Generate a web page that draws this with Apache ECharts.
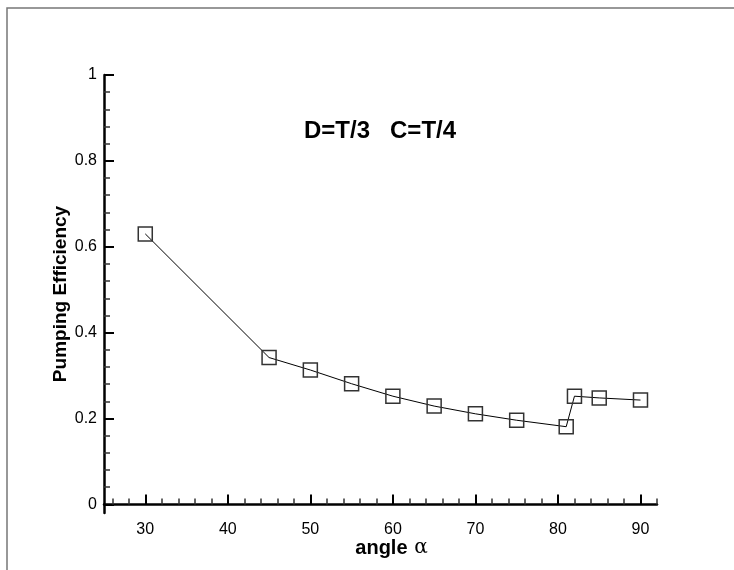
<!DOCTYPE html>
<html>
<head>
<meta charset="utf-8">
<script src="https://cdn.jsdelivr.net/npm/echarts@6/dist/echarts.min.js"></script>
<style>html,body{margin:0;padding:0;background:#fff}#c{width:734px;height:570px}</style>
</head>
<body>
<div id="c"></div>
<script>
const angles = [30, 45, 50, 55, 60, 65, 70, 75, 81, 82, 85, 90];
const efficiency = [0.630, 0.342, 0.313, 0.281, 0.252, 0.229, 0.211, 0.196, 0.181, 0.252, 0.248, 0.243];
const xMajorTicks = [30, 40, 50, 60, 70, 80, 90];
const xMinorTicks = [26, 28, 32, 34, 36, 38, 42, 44, 46, 48, 52, 54, 56, 58, 62, 64, 66, 68, 72, 74, 76, 78, 82, 84, 86, 88, 92];
const yMajorTicks = [0, 0.2, 0.4, 0.6, 0.8, 1];
const yMinorTicks = [0.04, 0.08, 0.12, 0.16, 0.24, 0.28, 0.32, 0.36, 0.44, 0.48, 0.52, 0.56, 0.64, 0.68, 0.72, 0.76, 0.84, 0.88, 0.92, 0.96];
const titleText = 'D=T/3   C=T/4';
const xName = 'angle';
const yName = 'Pumping Efficiency';

const FONT = '"Liberation Sans", Arial, sans-serif';
const chart = echarts.init(document.getElementById('c'), null, {renderer: 'canvas'});
const axisCommon = {
  axisLine: {show: true, lineStyle: {color: '#000', width: 2.5}},
  splitLine: {show: false}
};
chart.setOption({
  animation: false,
  backgroundColor: '#fff',
  grid: {left: 104, right: 77, top: 75, bottom: 57, containLabel: false},
  xAxis: [{
    type: 'value', min: 25, max: 92, ...axisCommon,
    name: '{b|' + xName + '}  {a|α}',
    nameLocation: 'middle', nameGap: 25, nameMoveOverlap: false,
    nameTextStyle: {padding: [0, 0, 0, 22], rich: {
      b: {fontFamily: FONT, fontWeight: 'bold', fontSize: 20, color: '#000'},
      a: {fontFamily: '"DejaVu Serif", serif', fontSize: 20, color: '#000'}
    }},
    axisTick: {show: true, inside: true, length: 10, customValues: xMajorTicks, lineStyle: {color: '#000', width: 2}},
    axisLabel: {show: true, customValues: xMajorTicks, margin: 9, fontFamily: FONT, fontSize: 16, color: '#000'}
  }, {
    type: 'value', min: 25, max: 92, position: 'bottom',
    axisLine: {show: false}, splitLine: {show: false}, axisLabel: {show: false},
    axisTick: {show: true, inside: true, length: 6, customValues: xMinorTicks, lineStyle: {color: '#333', width: 1.5}}
  }],
  yAxis: [{
    type: 'value', min: -0.02, max: 1, position: 'left', ...axisCommon,
    name: yName, nameLocation: 'middle', nameGap: 34, nameRotate: 90, nameMoveOverlap: false,
    nameTextStyle: {fontFamily: FONT, fontWeight: 'bold', fontSize: 19, color: '#000'},
    axisTick: {show: true, inside: true, length: 10, customValues: yMajorTicks, lineStyle: {color: '#000', width: 2}},
    axisLabel: {show: true, customValues: yMajorTicks, margin: 7, fontFamily: FONT, fontSize: 16, color: '#000',
      formatter: v => String(Math.round(v * 10) / 10)}
  }, {
    type: 'value', min: -0.02, max: 1, position: 'left',
    axisLine: {show: false}, splitLine: {show: false}, axisLabel: {show: false},
    axisTick: {show: true, inside: true, length: 6, customValues: yMinorTicks, lineStyle: {color: '#333', width: 1.5}}
  }],
  graphic: [
    {type: 'rect', shape: {x: 7, y: 8, width: 800, height: 700}, style: {fill: 'none', stroke: '#777', lineWidth: 1.5}, z: -10, silent: true},
    {type: 'text', left: 304, top: 119, style: {text: titleText, fontFamily: FONT, fontWeight: 'bold', fontSize: 24, fill: '#000'}}
  ],
  series: [{
    type: 'line',
    xAxisIndex: 0, yAxisIndex: 0,
    data: angles.map((a, i) => [a, efficiency[i]]),
    symbol: 'rect', symbolSize: 14,
    lineStyle: {color: '#000', width: 1},
    itemStyle: {color: 'rgba(0,0,0,0)', borderColor: '#333', borderWidth: 1.5},
    clip: false
  }]
});
</script>
</body>
</html>
